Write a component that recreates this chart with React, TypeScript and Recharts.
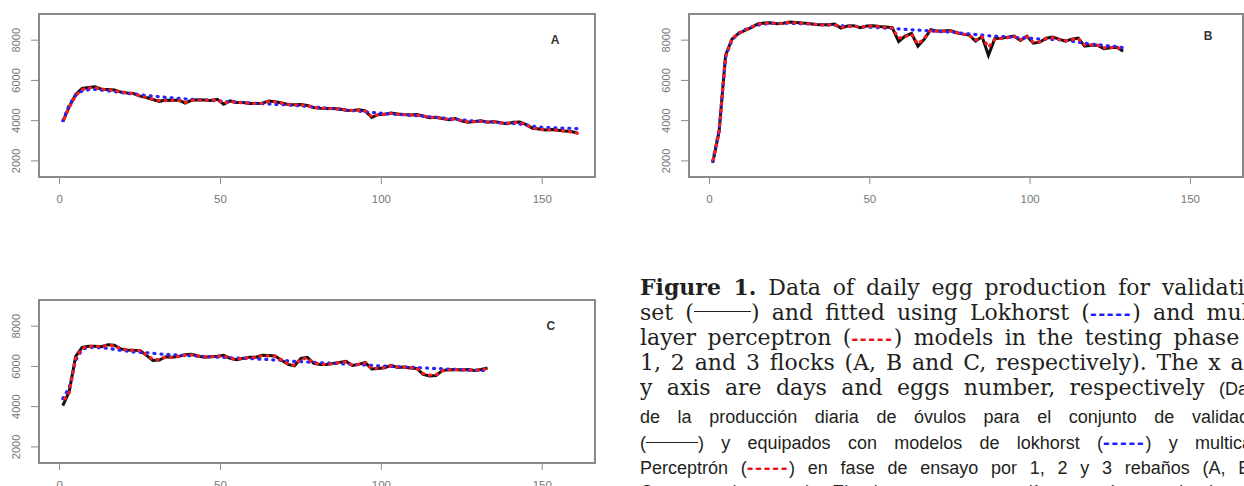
import React from "react";
import {
  LineChart,
  Line,
  XAxis,
  YAxis,
  ReferenceArea,
  ReferenceDot,
} from "recharts";

// day of production (every second day)
const days = [
  1, 3, 5, 7, 9, 11, 13, 15, 17, 19, 21, 23, 25, 27, 29, 31, 33, 35, 37, 39,
  41, 43, 45, 47, 49, 51, 53, 55, 57, 59, 61, 63, 65, 67, 69, 71, 73, 75, 77, 79,
  81, 83, 85, 87, 89, 91, 93, 95, 97, 99, 101, 103, 105, 107, 109, 111, 113, 115, 117, 119,
  121, 123, 125, 127, 129, 131, 133, 135, 137, 139, 141, 143, 145, 147, 149, 151, 153, 155, 157, 159,
  161,
];

const xTicks = [0, 50, 100, 150];
const yTicks = [2000, 4000, 6000, 8000];
const xDomain = [-6.4, 166.4];
const yDomain = [1200, 9300];

// flock 1 (A)
const obsA = [
  3950, 4700, 5300, 5600, 5650, 5680, 5560, 5550, 5520, 5420,
  5380, 5350, 5220, 5150, 5050, 4960, 5020, 5000, 5030, 4870,
  5010, 5040, 5030, 5000, 5060, 4820, 4980, 4900, 4900, 4850,
  4850, 4870, 4980, 4940, 4880, 4800, 4790, 4800, 4750, 4650,
  4620, 4600, 4600, 4580, 4520, 4500, 4540, 4480, 4160, 4300,
  4320, 4380, 4330, 4300, 4280, 4300, 4230, 4150, 4170, 4110,
  4050, 4100, 3980, 3920, 3960, 3990, 3920, 3960, 3900, 3850,
  3920, 3930, 3800, 3620, 3580, 3540, 3560, 3520, 3480, 3460,
  3380,
];
const lokA = [
  4000, 4800, 5250, 5480, 5540, 5560, 5520, 5480, 5450, 5400,
  5360, 5320, 5290, 5250, 5220, 5190, 5160, 5130, 5110, 5080,
  5060, 5040, 5030, 5000, 4980, 4960, 4940, 4920, 4900, 4880,
  4860, 4850, 4830, 4810, 4800, 4780, 4760, 4740, 4710, 4680,
  4650, 4620, 4590, 4560, 4530, 4500, 4470, 4440, 4410, 4380,
  4350, 4330, 4310, 4290, 4270, 4250, 4220, 4190, 4160, 4130,
  4100, 4070, 4040, 4010, 3980, 3960, 3940, 3920, 3900, 3880,
  3860, 3830, 3780, 3720, 3680, 3660, 3650, 3640, 3630, 3620,
  3600,
];
const mlpA = [
  3950, 4650, 5250, 5550, 5620, 5650, 5570, 5540, 5500, 5430,
  5380, 5340, 5230, 5150, 5060, 4990, 5000, 5000, 5010, 4900,
  5000, 5030, 5020, 5010, 5040, 4850, 4960, 4910, 4890, 4860,
  4850, 4860, 4950, 4930, 4870, 4810, 4790, 4790, 4740, 4660,
  4630, 4610, 4600, 4570, 4530, 4510, 4520, 4470, 4200, 4290,
  4320, 4360, 4330, 4300, 4280, 4290, 4230, 4160, 4160, 4110,
  4060, 4090, 3990, 3930, 3950, 3980, 3930, 3950, 3900, 3860,
  3900, 3920, 3800, 3630, 3570, 3540, 3550, 3510, 3480, 3440,
  3370,
];

// flock 2 (B)
const obsB = [
  1900, 3470, 7250, 8050, 8330, 8480, 8620, 8800, 8850, 8860,
  8820, 8840, 8900, 8880, 8850, 8830, 8780, 8760, 8770, 8800,
  8600, 8700, 8720, 8620, 8700, 8720, 8680, 8650, 8620, 7930,
  8200, 8330, 7700, 8050, 8520, 8450, 8460, 8480, 8380, 8300,
  8250, 7950, 8180, 7250, 8080, 8100, 8150, 8200, 7990, 8200,
  7850, 7900, 8100, 8150, 8050, 7950, 8050, 8100, 7700, 7750,
  7750, 7580, 7620, 7650, 7450,
];
const lokB = [
  2000, 3550, 7150, 8000, 8350, 8520, 8650, 8750, 8800, 8830,
  8840, 8840, 8840, 8830, 8820, 8800, 8790, 8770, 8760, 8740,
  8720, 8700, 8690, 8670, 8650, 8640, 8620, 8600, 8580, 8560,
  8540, 8520, 8500, 8480, 8460, 8440, 8420, 8400, 8370, 8340,
  8310, 8280, 8250, 8220, 8200, 8180, 8160, 8140, 8120, 8100,
  8080, 8060, 8050, 8040, 8020, 7980, 7950, 7900, 7850, 7800,
  7780, 7740, 7700, 7680, 7620,
];
const mlpB = [
  1900, 3450, 7200, 8050, 8340, 8490, 8630, 8790, 8840, 8850,
  8830, 8830, 8880, 8870, 8840, 8820, 8780, 8760, 8760, 8780,
  8630, 8680, 8700, 8640, 8690, 8700, 8670, 8640, 8600, 8100,
  8180, 8300, 7800, 8100, 8480, 8440, 8450, 8460, 8370, 8300,
  8250, 8000, 8170, 7650, 8050, 8090, 8130, 8180, 8020, 8170,
  7900, 7920, 8080, 8120, 8040, 7970, 8030, 8080, 7760, 7770,
  7750, 7620, 7630, 7650, 7520,
];

// flock 3 (C)
const obsC = [
  4050, 4750, 6500, 6950, 7000, 7000, 6980, 7080, 7050, 6870,
  6820, 6800, 6790, 6550, 6300, 6320, 6480, 6450, 6500, 6580,
  6600, 6520, 6460, 6480, 6500, 6550, 6400, 6330, 6400, 6450,
  6460, 6550, 6540, 6520, 6300, 6100, 6030, 6400, 6450, 6150,
  6100, 6100, 6150, 6200, 6250, 6050, 6100, 6200, 5870, 5900,
  5930, 6050, 5950, 5970, 5920, 5900, 5600, 5520, 5550, 5800,
  5830, 5850, 5820, 5850, 5800, 5850, 5920,
];
const lokC = [
  4400, 4950, 6300, 6850, 6950, 6950, 6920, 6900, 6850, 6800,
  6760, 6720, 6700, 6680, 6650, 6620, 6600, 6580, 6560, 6550,
  6530, 6510, 6490, 6480, 6460, 6450, 6430, 6420, 6400, 6390,
  6370, 6360, 6340, 6320, 6300, 6280, 6250, 6240, 6220, 6200,
  6180, 6170, 6150, 6140, 6120, 6100, 6090, 6070, 6050, 6030,
  6020, 6000, 5990, 5970, 5960, 5940, 5930, 5910, 5900, 5880,
  5870, 5850, 5840, 5820, 5810, 5800, 5790,
];
const mlpC = [
  4250, 4700, 6400, 6900, 6990, 7000, 6980, 7050, 7020, 6880,
  6820, 6800, 6780, 6580, 6350, 6340, 6470, 6450, 6490, 6560,
  6580, 6520, 6470, 6480, 6500, 6530, 6410, 6350, 6400, 6440,
  6450, 6530, 6520, 6500, 6320, 6130, 6050, 6360, 6420, 6170,
  6110, 6100, 6140, 6190, 6230, 6070, 6100, 6180, 5900, 5910,
  5940, 6030, 5960, 5960, 5930, 5900, 5640, 5560, 5580, 5790,
  5820, 5840, 5820, 5830, 5800, 5830, 5880,
];

function toRows(obs: number[], lok: number[], mlp: number[]) {
  return obs.map((v, i) => ({ day: days[i], obs: v, lok: lok[i], mlp: mlp[i] }));
}

const AXIS_GRAY = "#8a8a8a";
const LABEL_GRAY = "#777";
const SANS = '"Liberation Sans", Arial, sans-serif';
const SERIF = '"DejaVu Serif", serif';

// R style: vertical y tick labels
function YTick(props: any) {
  const { x, y, payload } = props;
  const bx = x + 1;
  return (
    <text
      x={bx}
      y={y}
      transform={`rotate(-90, ${bx}, ${y})`}
      textAnchor="middle"
      fontSize={11}
      fontFamily={SANS}
      fill={LABEL_GRAY}
    >
      {payload.value}
    </text>
  );
}

function Panel({
  left,
  top,
  width,
  rows,
  label,
  labelX,
  labelY,
}: {
  left: number;
  top: number;
  width: number;
  rows: any[];
  label: string;
  labelX: number;
  labelY: number;
}) {
  return (
    <div style={{ position: "absolute", left, top }}>
      <LineChart
        width={width}
        height={215}
        data={rows}
        margin={{ top: 14, right: 5, bottom: 0, left: 0 }}
      >
        <XAxis
          dataKey="day"
          type="number"
          domain={xDomain}
          ticks={xTicks}
          interval={0}
          allowDataOverflow
          axisLine={false}
          tickSize={7}
          tickMargin={11}
          height={38}
          tickLine={{ stroke: AXIS_GRAY }}
          tick={{ fontSize: 11.5, fill: LABEL_GRAY, fontFamily: SANS }}
        />
        <YAxis
          type="number"
          domain={yDomain}
          ticks={yTicks}
          interval={0}
          allowDataOverflow
          axisLine={false}
          width={39}
          tickSize={8}
          tickMargin={12}
          tickLine={{ stroke: AXIS_GRAY }}
          tick={(p: any) => <YTick {...p} />}
        />
        <ReferenceArea
          x1={xDomain[0]}
          x2={xDomain[1]}
          y1={yDomain[0]}
          y2={yDomain[1]}
          fill="none"
          stroke={AXIS_GRAY}
          strokeWidth={2}
          ifOverflow="visible"
        />
        <Line
          dataKey="obs"
          type="linear"
          stroke="#111"
          strokeWidth={3}
          dot={false}
          isAnimationActive={false}
        />
        <Line
          dataKey="lok"
          type="linear"
          stroke="#2424ff"
          strokeWidth={3.2}
          strokeDasharray="1 6"
          strokeLinecap="round"
          dot={false}
          isAnimationActive={false}
        />
        <Line
          dataKey="mlp"
          type="linear"
          stroke="#ff1a1a"
          strokeWidth={3.2}
          strokeDasharray="1 6"
          strokeDashoffset={3.5}
          strokeLinecap="round"
          dot={false}
          isAnimationActive={false}
        />
        <ReferenceDot
          x={labelX}
          y={labelY}
          r={0}
          fill="none"
          stroke="none"
          ifOverflow="visible"
          label={{
            value: label,
            position: "center",
            fontSize: 12,
            fontWeight: "bold",
            fill: "#333",
            fontFamily: SANS,
          }}
        />
      </LineChart>
    </div>
  );
}

// caption helpers
function Rule({ w, lift }: { w: number; lift: number }) {
  return (
    <span
      style={{
        display: "inline-block",
        width: w,
        height: 0,
        borderTop: "1.5px solid #231f20",
        marginBottom: lift,
      }}
    />
  );
}

function Dash({ color }: { color: string }) {
  return (
    <span
      style={{
        color,
        fontFamily: SANS,
        fontWeight: "bold",
        fontSize: 20,
        letterSpacing: 1.8,
      }}
    >
      -----
    </span>
  );
}

const CAP_LEFT = 640;
const CAP_WIDTH = 632;

function CapLine({
  baseline,
  serif,
  children,
}: {
  baseline: number;
  serif: boolean;
  children: React.ReactNode;
}) {
  const asc = serif ? 20.1 : 18.7;
  return (
    <div
      style={{
        position: "absolute",
        left: CAP_LEFT,
        top: baseline - asc,
        width: CAP_WIDTH,
        height: 25,
        lineHeight: "25px",
        fontFamily: serif ? SERIF : SANS,
        fontSize: serif ? 22 : 18,
        color: "#231f20",
        textAlign: "justify",
        textAlignLast: "justify",
        overflow: "hidden",
      }}
    >
      {children}
    </div>
  );
}

function Caption() {
  return (
    <>
      <CapLine baseline={295} serif>
        <b>Figure 1.</b> Data of daily egg production for validation
      </CapLine>
      <CapLine baseline={320.1} serif>
        set (<Rule w={57} lift={8} />) and fitted using Lokhorst (<Dash color="#1a1aff" />) and multi-
      </CapLine>
      <CapLine baseline={345.2} serif>
        layer perceptron (<Dash color="#e8101a" />) models in the testing phase of
      </CapLine>
      <CapLine baseline={370.3} serif>
        1, 2 and 3 flocks (A, B and C, respectively). The x and
      </CapLine>
      <CapLine baseline={395.4} serif>
        y axis are days and eggs number, respectively{" "}
        <span style={{ fontFamily: SANS, fontSize: 18 }}>(Datos</span>
      </CapLine>
      <CapLine baseline={423.3} serif={false}>
        de la producción diaria de óvulos para el conjunto de validación
      </CapLine>
      <CapLine baseline={448.3} serif={false}>
        (<Rule w={52} lift={6} />) y equipados con modelos de lokhorst (<Dash color="#1a1aff" />) y multicapa
      </CapLine>
      <CapLine baseline={473.3} serif={false}>
        Perceptrón (<Dash color="#e8101a" />) en fase de ensayo por 1, 2 y 3 rebaños (A, B y
      </CapLine>
      <CapLine baseline={498.3} serif={false}>
        C, respectivamente). El eje x e y son días y número de huevos,
      </CapLine>
    </>
  );
}

export default function App() {
  return (
    <div
      style={{
        position: "absolute",
        left: 0,
        top: 0,
        width: 1244,
        height: 486,
        overflow: "hidden",
        background: "#fff",
      }}
    >
      <Panel left={0} top={0} width={600} rows={toRows(obsA, lokA, mlpA)} label="A" labelX={154} labelY={8000} />
      <Panel left={650} top={0} width={598} rows={toRows(obsB, lokB, mlpB)} label="B" labelX={155.5} labelY={8200} />
      <Panel left={0} top={286} width={600} rows={toRows(obsC, lokC, mlpC)} label="C" labelX={152.7} labelY={8000} />
      <Caption />
    </div>
  );
}
